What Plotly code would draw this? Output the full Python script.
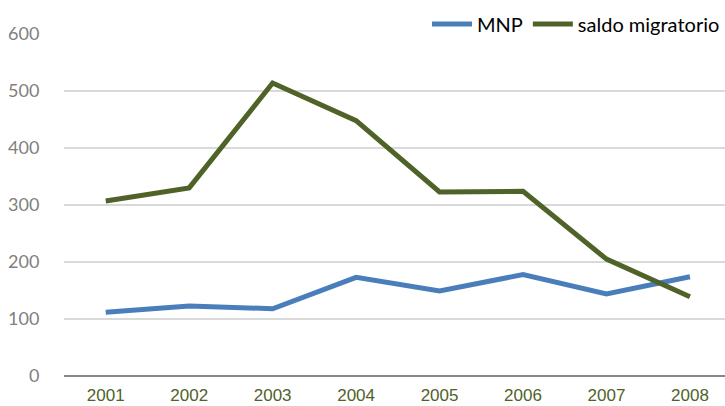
import plotly.graph_objects as go

years = ["2001", "2002", "2003", "2004", "2005", "2006", "2007", "2008"]
mnp = [112, 123, 118, 173, 149, 178, 144, 174]
saldo = [307, 330, 514, 448, 323, 324, 205, 139]
y_ticks = [0, 100, 200, 300, 400, 500, 600]

fig = go.Figure()
fig.add_trace(go.Scatter(x=list(range(len(years))), y=mnp, name="MNP", mode="lines",
                         line=dict(color="#4A7EBB", width=5)))
fig.add_trace(go.Scatter(x=list(range(len(years))), y=saldo, name="saldo migratorio", mode="lines",
                         line=dict(color="#4F6228", width=5)))

fig.update_layout(
    width=725, height=406,
    margin=dict(l=64, r=0, t=0, b=30, autoexpand=False),
    paper_bgcolor="white", plot_bgcolor="white",
    showlegend=True,
    legend=dict(orientation="h", x=1.0, xanchor="right", y=0.936, yanchor="middle",
                font=dict(family="Lato", size=20, color="#000000"),
                bgcolor="rgba(0,0,0,0)", itemwidth=40, tracegroupgap=0),
    xaxis=dict(range=[-0.5, 7.42], tickmode="array", tickvals=list(range(len(years))),
               ticktext=years, showgrid=False, zeroline=False, automargin=False,
               showline=False, ticks="outside", ticklen=4, tickcolor="rgba(0,0,0,0)",
               tickfont=dict(family="Liberation Sans", size=17, color="#4F6228")),
    yaxis=dict(range=[0, 600], domain=[0, 342 / 376], tickvals=y_ticks, showgrid=True,
               gridcolor="#D9D9D9", gridwidth=1.5, automargin=False,
               zeroline=True, zerolinecolor="#878787", zerolinewidth=2,
               ticks="outside", ticklen=20, tickcolor="rgba(0,0,0,0)",
               tickfont=dict(family="Lato", size=18, color="#808080")),
)

fig.write_html("out.html", config={"displayModeBar": False},
               post_script="document.body.style.margin='0';document.body.style.overflow='hidden';")
